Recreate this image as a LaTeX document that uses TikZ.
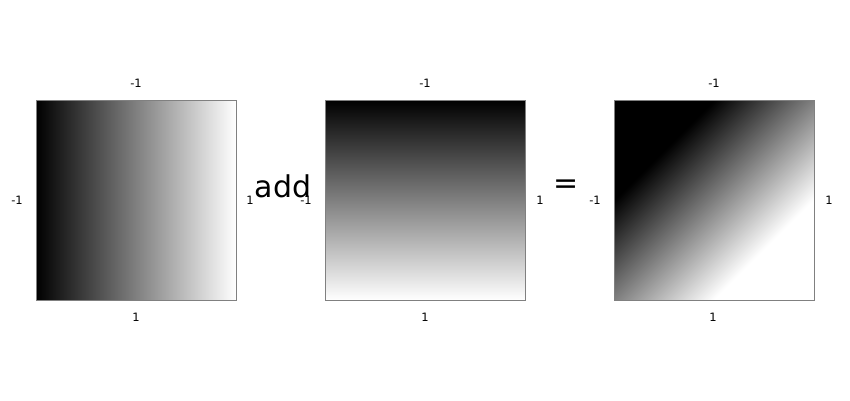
\documentclass[tikz,border=0pt]{standalone}
\usepackage{fontspec}
\setmainfont{DejaVu Sans}
\pgfdeclarehorizontalshading{diagsum}{100bp}{color(0bp)=(black); color(32.32bp)=(black); color(67.68bp)=(white); color(100bp)=(white)}
\tikzset{
  frame/.style={draw=black!50, line width=1pt},
  lbl/.style={inner sep=0pt, font=\fontsize{11.5}{13}\selectfont},
  op/.style={inner sep=0pt, font=\fontsize{30}{34}\selectfont}
}
\begin{document}
\begin{tikzpicture}[x=1pt,y=-1pt]
\useasboundingbox[fill=white] (0,0) rectangle (850,400);
% square 1: horizontal gradient
\shade[left color=black, right color=white] (36,100) rectangle (236,300);
\draw[frame] (36,100) rectangle (236,300);
% square 2: vertical gradient
\shade[top color=black, bottom color=white] (325,100) rectangle (525,300);
\draw[frame] (325,100) rectangle (525,300);
% square 3: sum
\shade[shading=diagsum, shading angle=-45] (614,100) rectangle (814,300);
\draw[frame] (614,100) rectangle (814,300);
% labels
\node[lbl] (t1) at (136,83) {-1};
\node[lbl] (b1) at (136,317) {1};
\node[lbl] (l1) at (17,200) {-1};
\node[lbl] (r1) at (250,200) {1};
\node[lbl] (t2) at (425,83) {-1};
\node[lbl] (b2) at (425,317) {1};
\node[lbl] (l2) at (306,200) {-1};
\node[lbl] (r2) at (540,200) {1};
\node[lbl] (t3) at (714,83) {-1};
\node[lbl] (b3) at (713,317) {1};
\node[lbl] (l3) at (595,200) {-1};
\node[lbl] (r3) at (829,200) {1};
\node[op, anchor=base] (add) at (283,197) {add};
\node[op] (eq) at (566,187) {=};
\end{tikzpicture}
\end{document}
